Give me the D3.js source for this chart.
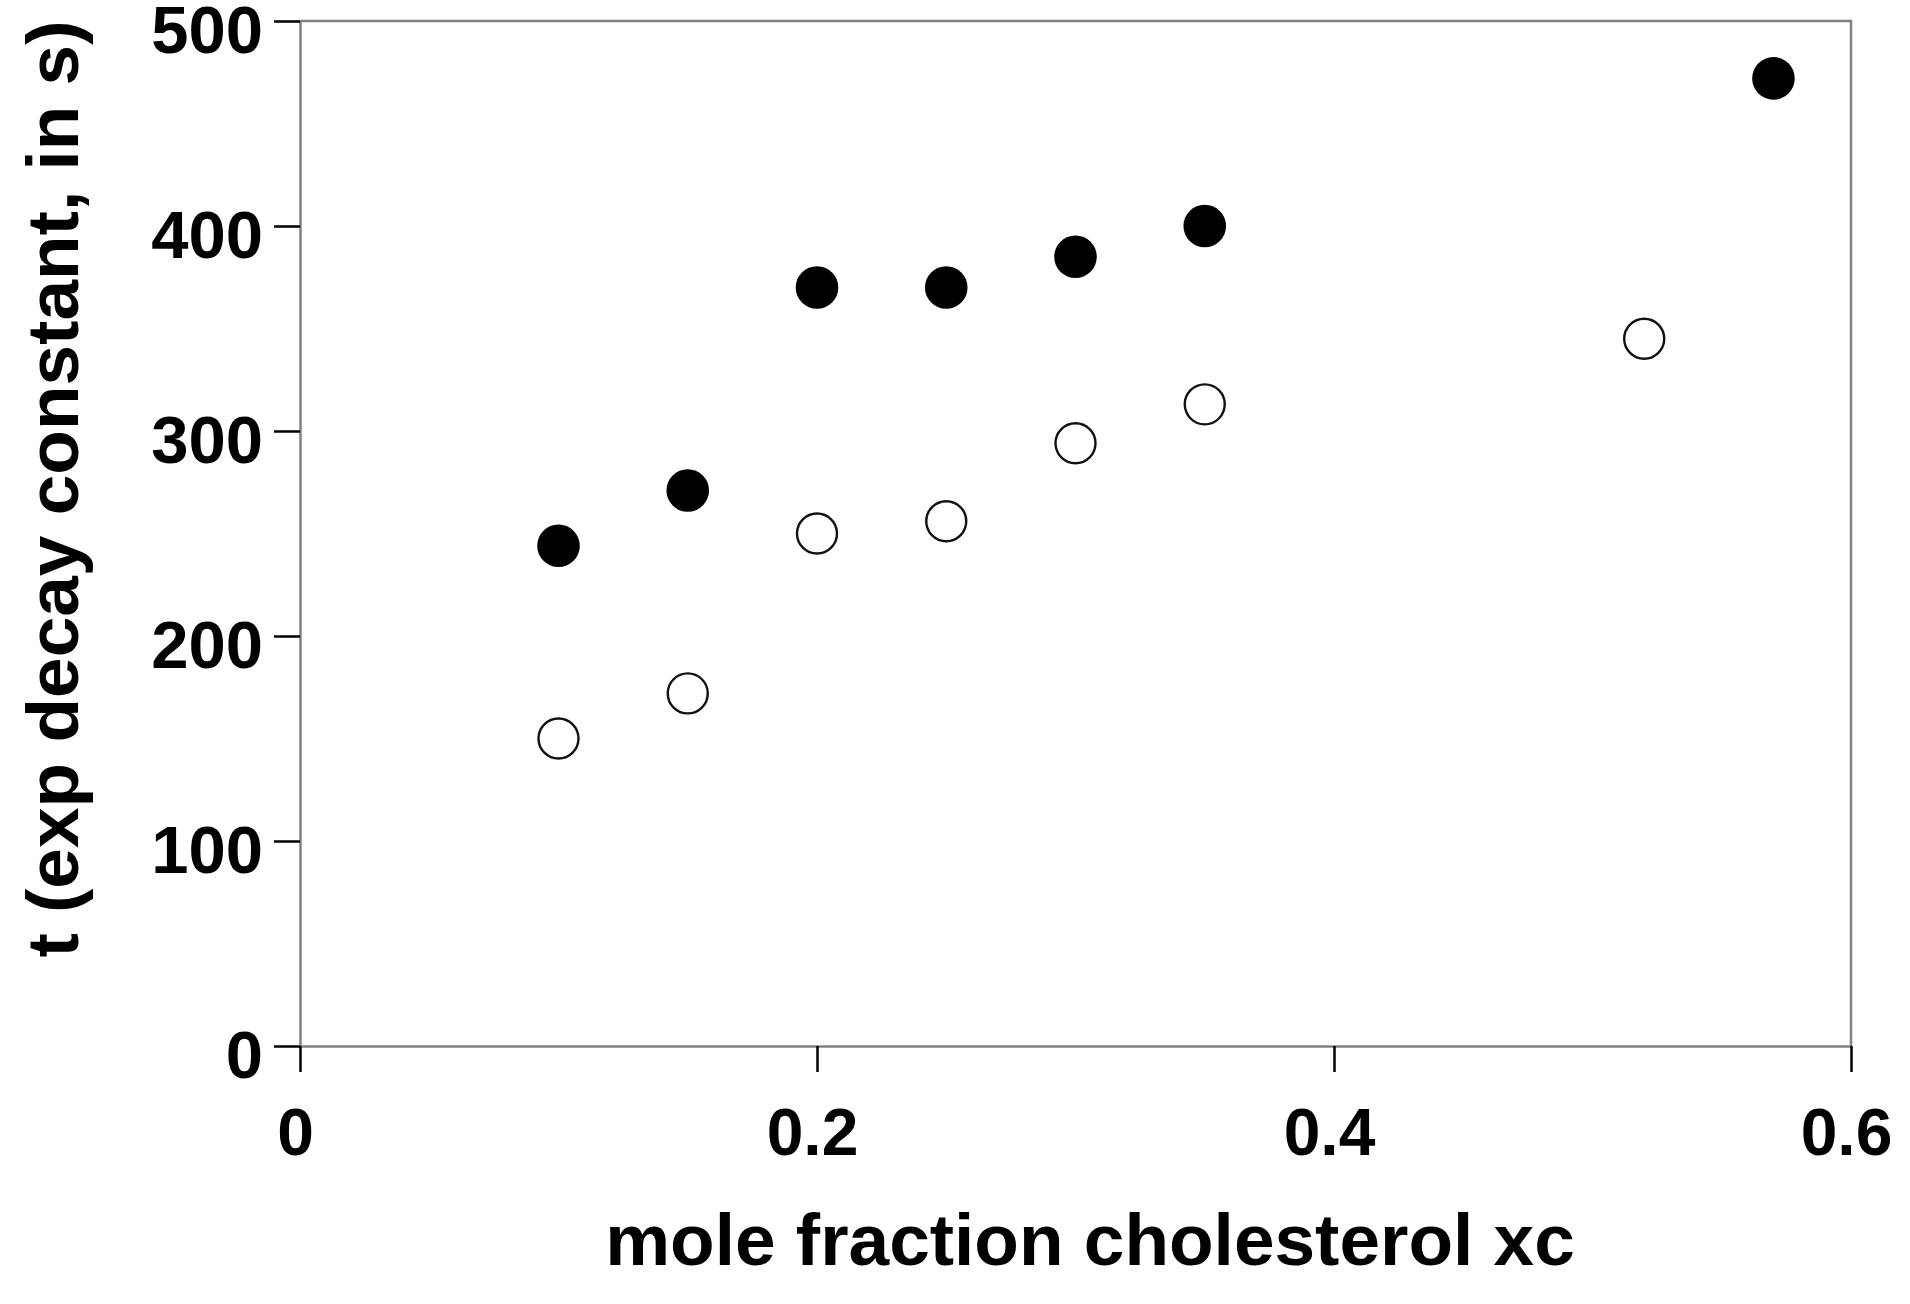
<!DOCTYPE html>
<html>
<head>
<meta charset="utf-8">
<script src="https://cdn.jsdelivr.net/npm/d3@7"></script>
<style>
  html, body { margin: 0; padding: 0; background: #fff; }
  svg { display: block; }
  text { font-family: "Liberation Sans", Arial, sans-serif; font-weight: bold; fill: #000; }
</style>
</head>
<body>
<div id="chart"></div>
<script>
// mole fraction cholesterol
const filledX = [0.10, 0.15, 0.20, 0.25, 0.30, 0.35, 0.57];
const filledT = [244, 271, 370, 370, 385, 400, 472];
const openX = [0.10, 0.15, 0.20, 0.25, 0.30, 0.35, 0.52];
const openT = [150, 172, 250, 256, 294, 313, 345];

const xTicks = [0, 0.2, 0.4, 0.6];
const yTicks = [0, 100, 200, 300, 400, 500];
const xTickLabels = ["0", "0.2", "0.4", "0.6"];

const W = 1910, H = 1304;
const m = { left: 300, right: 1851, top: 21, bottom: 1046 };

const svg = d3.select("#chart").append("svg")
    .attr("width", W).attr("height", H);

const x = d3.scaleLinear().domain([0, 0.6]).range([m.left, m.right]);
const y = d3.scaleLinear().domain([0, 500]).range([m.bottom, m.top]);

// cadre haut / droite
svg.append("path")
    .attr("d", `M${m.left},${m.top}H${m.right}V${m.bottom}`)
    .attr("fill", "none").attr("stroke", "#808080").attr("stroke-width", 2.5);

// axe Y
const gy = svg.append("g")
    .attr("transform", `translate(${m.left},0)`)
    .call(d3.axisLeft(y).tickValues(yTicks).tickSize(26).tickSizeOuter(0).tickPadding(11));
gy.select(".domain").attr("stroke", "#808080").attr("stroke-width", 2.5);
gy.selectAll(".tick line").attr("stroke", "#000").attr("stroke-width", 2.5);
gy.selectAll(".tick text")
    .attr("dy", null).attr("y", 31)
    .style("font-size", "67px");

// axe X
const gx = svg.append("g")
    .attr("transform", `translate(0,${m.bottom})`)
    .call(d3.axisBottom(x).tickValues(xTicks).tickSize(26).tickSizeOuter(0)
        .tickFormat((d, i) => xTickLabels[i]));
gx.select(".domain").attr("stroke", "#808080").attr("stroke-width", 2.5);
gx.selectAll(".tick line").attr("stroke", "#000").attr("stroke-width", 2.5);
gx.selectAll(".tick text")
    .attr("dy", null).attr("y", 109).attr("x", -5)
    .style("font-size", "66px");

// titres
svg.append("text")
    .attr("x", 1090).attr("y", 1265)
    .attr("text-anchor", "middle")
    .style("font-size", "73px")
    .text("mole fraction cholesterol xc");

svg.append("text")
    .attr("transform", "translate(78,489) rotate(-90)")
    .attr("text-anchor", "middle")
    .style("font-size", "73px")
    .text("t (exp decay constant, in s)");

// points
const filled = filledX.map((v, i) => ({ x: v, t: filledT[i] }));
const open = openX.map((v, i) => ({ x: v, t: openT[i] }));

svg.append("g").selectAll("circle").data(open).join("circle")
    .attr("cx", d => x(d.x)).attr("cy", d => y(d.t))
    .attr("r", 20)
    .attr("fill", "#fff").attr("stroke", "#111").attr("stroke-width", 2.4);

svg.append("g").selectAll("circle").data(filled).join("circle")
    .attr("cx", d => x(d.x)).attr("cy", d => y(d.t))
    .attr("r", 21.3)
    .attr("fill", "#000");
</script>
</body>
</html>
